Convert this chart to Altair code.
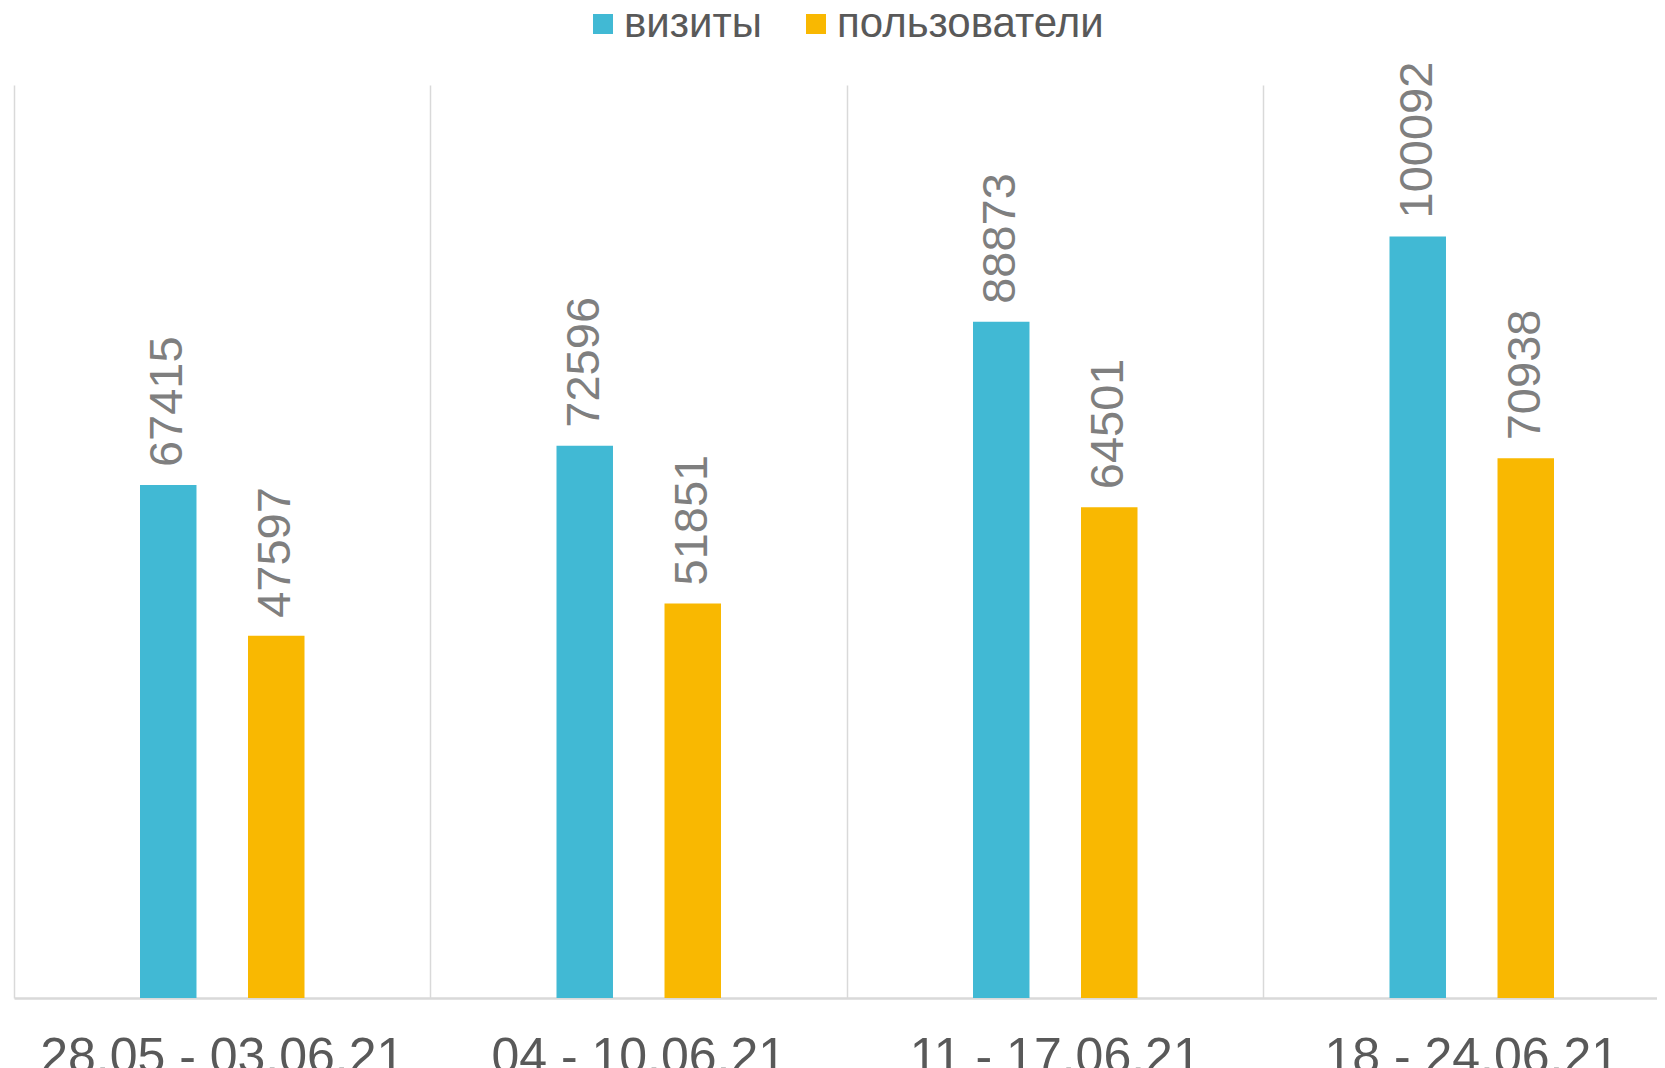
import altair as alt
import pandas as pd

weeks = ["28.05 - 03.06.21", "04 - 10.06.21", "11 - 17.06.21", "18 - 24.06.21"]
series = ["визиты", "пользователи"]
visits = [67415, 72596, 88873, 100092]
users = [47597, 51851, 64501, 70938]
colors = ["#41B9D4", "#F9B801"]

rows = []
for i, w in enumerate(weeks):
    rows.append({"week": w, "series": series[0], "value": visits[i]})
    rows.append({"week": w, "series": series[1], "value": users[i]})
df = pd.DataFrame(rows)

band = 416.5
x_enc = alt.X("week:N", sort=weeks, title=None,
              scale=alt.Scale(range=[0, band * 4], paddingInner=0, paddingOuter=0),
              axis=alt.Axis(grid=True, bandPosition=0, gridColor="#D9D9D9", gridWidth=1.5,
                            ticks=False, domainColor="#D9D9D9", domainWidth=2.5,
                            labelFont="Liberation Sans", labelFontSize=50, labelColor="#595959",
                            labelPadding=34, labelAngle=0, labelLimit=1000))
xo_enc = alt.XOffset("series:N", sort=series,
                     scale=alt.Scale(range=[126, 290.5], paddingInner=0.477, paddingOuter=0))
y_enc = alt.Y("value:Q", axis=None, scale=alt.Scale(domain=[0, 120000], nice=False, zero=True))

bars = alt.Chart(df).mark_bar(clip=True).encode(
    x=x_enc, xOffset=xo_enc, y=y_enc,
    color=alt.Color("series:N", sort=series, title=None,
                    scale=alt.Scale(domain=series, range=colors),
                    legend=alt.Legend(orient="none", legendX=568, legendY=-82, direction="horizontal",
                                      symbolType="square", symbolSize=400, symbolStrokeWidth=0,
                                      labelFont="Liberation Sans", labelFontSize=42,
                                      labelColor="#595959", labelOffset=0, columnPadding=33,
                                      padding=0, labelLimit=600))
)

labels = alt.Chart(df).mark_text(angle=270, align="left", baseline="middle", dx=18,
                                 font="Liberation Sans", fontSize=47, color="#7F7F7F").encode(
    x=x_enc, xOffset=xo_enc, y=y_enc, text=alt.Text("value:Q", format="d")
)

chart = (bars + labels).properties(
    width=1643, height=913,
    autosize=alt.AutoSizeParams(type="none"),
    padding={"left": 6, "top": 77, "right": 0, "bottom": 75},
).configure_view(stroke=None)

chart.save("out.html", embed_options={"renderer": "svg", "actions": False})
